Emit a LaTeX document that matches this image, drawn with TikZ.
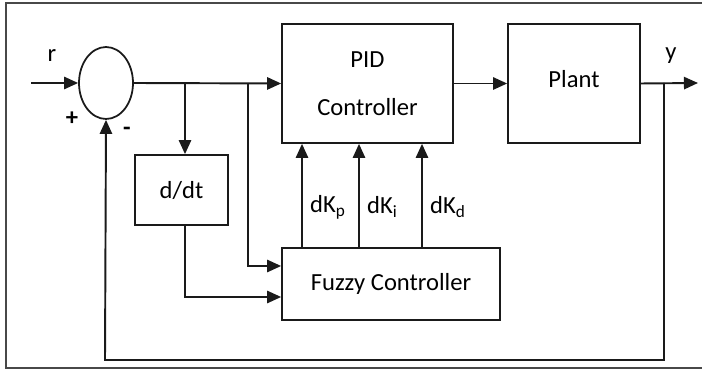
\documentclass[tikz,border=0pt]{standalone}
\usepackage{fontspec}
\setmainfont{Carlito}
\usepackage{tikz}
\usetikzlibrary{arrows.meta,calc,positioning,shapes.geometric}
\definecolor{wire}{HTML}{1A1A1A}

\begin{document}
\begin{tikzpicture}[x=0.02cm,y=0.02cm,font=\fontsize{14}{17}\selectfont,>={Triangle[length=8pt,width=7pt]},
  block/.style={draw=wire,line width=1pt,inner sep=0pt,align=center},
  wire/.style={draw=wire,line width=1.1pt}]
\useasboundingbox (0,0) rectangle (702,371);
\draw[wire!80,line width=0.8pt] (702,3) -- (6,3) -- (6,368) -- (702,368);
% blocks
\node[block,ellipse,minimum width=1.08cm,minimum height=1.44cm] (sum) at (106,288) {};
\node[block,minimum width=3.42cm,minimum height=2.38cm] (pid) at (367.5,287.5) {PID\\[10pt]Controller};
\node[block,minimum width=2.64cm,minimum height=2.38cm] (plant) at (574,287.5) {\raisebox{0.17cm}{Plant}};
\node[block,minimum width=1.86cm,minimum height=1.4cm] (ddt) at (181.5,181) {d/dt};
\node[block,minimum width=4.36cm,minimum height=1.44cm] (fuzzy) at (391,87) {Fuzzy Controller};
% wire points
\coordinate (rin) at (31,288);
\coordinate (yout) at (698,288);
\coordinate (b1) at (185,288);
\coordinate (b2) at (248,288);
\coordinate (b3) at (664,288);
% main path
\draw[wire,->] (rin) -- (sum.west);
\draw[wire,->] (sum.east) -- (pid.west);
\draw[wire,->] (pid.east) -- (plant.west);
\draw[wire,->] (plant.east) -- (yout);
% derivative and fuzzy inputs
\draw[wire,->] (b1) -- (b1 |- ddt.north);
\draw[wire,->] (b2) |- ($(fuzzy.west)+(0,18)$);
\draw[wire,->] (b1 |- ddt.south) |- ($(fuzzy.west)+(0,-13)$);
% gain corrections
\foreach \x/\k in {302/p,359/i,422/d} {
  \draw[wire,->] (\x,0 |- fuzzy.north) -- (\x,0 |- pid.south);
  \node[anchor=west] (dk\k) at (\x+2,164) {dK\textsubscript{\k}};
}
% feedback
\draw[wire,->] (b3) |- (105,11) -- (sum.south);
% signs and signals
\node (lr) at (52,315) {r};
\node (ly) at (671,315) {y};
\node (lplus) at (72,252) {\bfseries +};
\node (lminus) at (127,240) {\bfseries -};
\end{tikzpicture}
\end{document}
